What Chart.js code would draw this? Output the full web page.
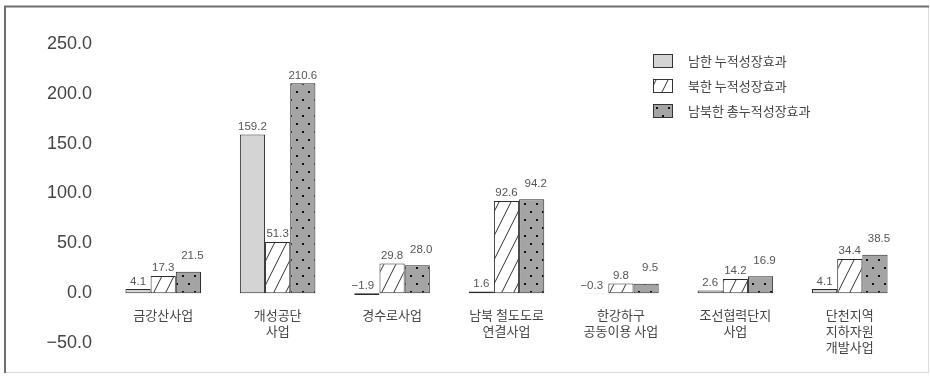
<!DOCTYPE html>
<html>
<head>
<meta charset="utf-8">
<script src="https://cdn.jsdelivr.net/npm/chart.js"></script>
<style>
  html, body { margin: 0; padding: 0; background: #fff; }
  #wrap { width: 930px; height: 376px; }
</style>
</head>
<body>
<div id="wrap"><canvas id="growth-chart" width="930" height="376"></canvas></div>
<script>
// 사업별 누적성장효과
const projects = [
    ['금강산사업'],
    ['개성공단', '사업'],
    ['경수로사업'],
    ['남북 철도도로', '연결사업'],
    ['한강하구', '공동이용 사업'],
    ['조선협력단지', '사업'],
    ['단천지역', '지하자원', '개발사업']
];
const southEffect = [4.1, 159.2, -1.9, 1.6, -0.3, 2.6, 4.1];
const northEffect = [17.3, 51.3, 29.8, 92.6, 9.8, 14.2, 34.4];
const totalEffect = [21.5, 210.6, 28.0, 94.2, 9.5, 16.9, 38.5];
const seriesNames = ['남한 누적성장효과', '북한 누적성장효과', '남북한 총누적성장효과'];
const yTicks = [-50, 0, 50, 100, 150, 200, 250];

const FONT = '"Liberation Sans", "Noto Sans CJK KR", sans-serif';
const KFONT = '"Noto Sans CJK KR", "Liberation Sans", sans-serif';

// fill patterns
function hatchPattern() {
    const c = document.createElement('canvas');
    c.width = 12; c.height = 24;
    const g = c.getContext('2d');
    g.fillStyle = '#fff';
    g.fillRect(0, 0, 12, 24);
    g.strokeStyle = '#333';
    g.lineWidth = 1;
    for (const dx of [-12, 0, 12]) {
        g.beginPath();
        g.moveTo(dx, 24);
        g.lineTo(dx + 12, 0);
        g.stroke();
    }
    return g.createPattern(c, 'repeat');
}

function dotPattern() {
    const c = document.createElement('canvas');
    c.width = 12; c.height = 16;
    const g = c.getContext('2d');
    g.fillStyle = '#a4a4a4';
    g.fillRect(0, 0, 12, 16);
    g.fillStyle = '#111';
    g.fillRect(2, 3, 2, 2);
    g.fillRect(8, 11, 2, 2);
    return g.createPattern(c, 'repeat');
}

const fills = ['#d4d4d4', hatchPattern(), dotPattern()];

// frame around the figure
const framePlugin = {
    id: 'frame',
    beforeDraw(chart) {
        const ctx = chart.ctx;
        ctx.save();
        ctx.fillStyle = '#fff';
        ctx.fillRect(0, 0, chart.width, chart.height);
        ctx.strokeStyle = '#dcdcdc';
        ctx.lineWidth = 1;
        ctx.strokeRect(5.5, 6.5, 923, 366);
        ctx.strokeStyle = '#6e6e6e';
        ctx.lineWidth = 2;
        ctx.beginPath();
        ctx.moveTo(4, 6.5);
        ctx.lineTo(929, 6.5);
        ctx.moveTo(5, 6);
        ctx.lineTo(5, 373);
        ctx.stroke();
        ctx.restore();
    }
};

// value labels above bars and category names under the zero line
const labelPlugin = {
    id: 'barLabels',
    afterDatasetsDraw(chart) {
        const ctx = chart.ctx;
        const y = chart.scales.y;
        const x = chart.scales.x;
        const zero = y.getPixelForValue(0);
        ctx.save();
        ctx.font = '11.5px ' + FONT;
        ctx.fillStyle = '#555';
        ctx.textAlign = 'center';
        ctx.textBaseline = 'bottom';
        chart.data.datasets.forEach((ds, di) => {
            const meta = chart.getDatasetMeta(di);
            meta.data.forEach((bar, i) => {
                const v = ds.data[i];
                let top = Math.min(bar.y, zero) - 2;
                let bx = bar.x;
                if (di === 2 && Math.abs(v - northEffect[i]) < 12) {
                    top -= 8;
                    bx += 4;
                }
                if (v < 0) bx -= 4;
                const txt = v.toFixed(1).replace('-', '−');
                ctx.fillText(txt, bx, top);
            });
        });

        ctx.font = '13px ' + KFONT;
        ctx.fillStyle = '#444';
        ctx.textBaseline = 'middle';
        projects.forEach((lines, i) => {
            const cx = x.getPixelForValue(i);
            lines.forEach((ln, k) => ctx.fillText(ln, cx, zero + 22 + k * 16));
        });
        ctx.restore();
    }
};

// legend block at the upper right
const legendPlugin = {
    id: 'boxLegend',
    afterDraw(chart) {
        const ctx = chart.ctx;
        ctx.save();
        ctx.font = '13px ' + KFONT;
        ctx.textBaseline = 'middle';
        ctx.textAlign = 'left';
        seriesNames.forEach((name, i) => {
            const ly = 54 + i * 25;
            ctx.fillStyle = fills[i];
            ctx.fillRect(653, ly, 20, 14);
            ctx.strokeStyle = '#333';
            ctx.lineWidth = 1;
            ctx.strokeRect(653.5, ly + 0.5, 19, 13);
            ctx.fillStyle = '#444';
            ctx.fillText(name, 688, ly + 7);
        });
        ctx.restore();
    }
};

new Chart(document.getElementById('growth-chart').getContext('2d'), {
    type: 'bar',
    data: {
        labels: projects,
        datasets: [southEffect, northEffect, totalEffect].map((d, i) => ({
            label: seriesNames[i],
            data: d,
            backgroundColor: fills[i],
            borderColor: '#2a2a2a',
            borderWidth: 1,
            borderSkipped: false,
            categoryPercentage: 0.66,
            barPercentage: 1.0
        }))
    },
    options: {
        responsive: false,
        animation: false,
        layout: { padding: { left: 36, right: 23, top: 44, bottom: 33 } },
        plugins: {
            legend: { display: false },
            tooltip: { enabled: false }
        },
        scales: {
            x: {
                display: false,
                grid: { display: false }
            },
            y: {
                min: -50,
                max: 250,
                afterFit(axis) { axis.width = 70; },
                afterBuildTicks(axis) { axis.ticks = yTicks.map(v => ({ value: v })); },
                grid: { display: false },
                border: { display: false },
                ticks: {
                    padding: 6,
                    color: '#444',
                    font: { family: FONT, size: 18 },
                    callback: v => v.toFixed(1).replace('-', '−')
                }
            }
        }
    },
    plugins: [framePlugin, labelPlugin, legendPlugin]
});
</script>
</body>
</html>
